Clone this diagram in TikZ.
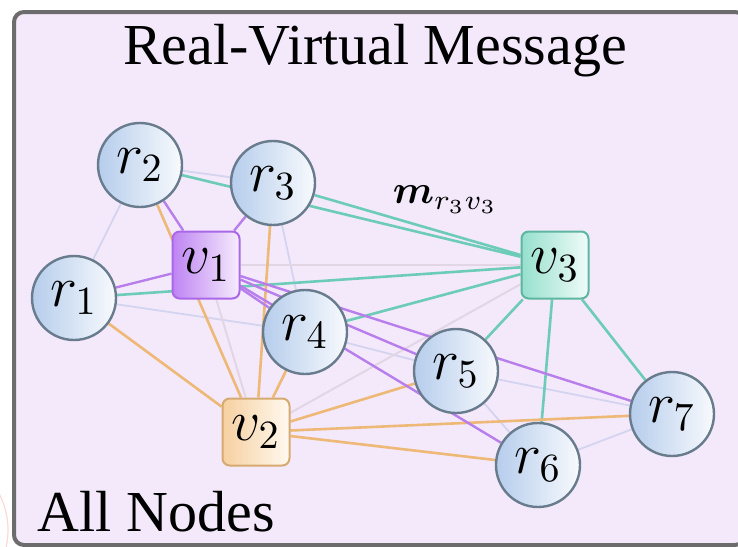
\documentclass[tikz,border=0pt]{standalone}
\usepackage{amsmath,bm}
\usepackage{fontspec}
\IfFontExistsTF{LiberationSerif-Regular.ttf}
  {\newfontfamily\headfont{LiberationSerif-Regular.ttf}}
  {\IfFontExistsTF{Liberation Serif:style=Regular}
     {\newfontfamily\headfont{Liberation Serif:style=Regular}}
     {\newcommand\headfont{\rmfamily}}}

\definecolor{panelfill}{RGB}{243,233,250}
\definecolor{panelrule}{RGB}{108,108,108}
\definecolor{realL}{RGB}{182,205,236}
\definecolor{realR}{RGB}{248,250,253}
\definecolor{realrule}{RGB}{104,124,142}
\definecolor{vaL}{RGB}{190,132,242}
\definecolor{vaR}{RGB}{246,236,253}
\definecolor{varule}{RGB}{170,104,232}
\definecolor{vbL}{RGB}{246,208,160}
\definecolor{vbR}{RGB}{255,249,240}
\definecolor{vbrule}{RGB}{214,170,112}
\definecolor{vcL}{RGB}{150,224,205}
\definecolor{vcR}{RGB}{240,251,248}
\definecolor{vcrule}{RGB}{92,182,160}
\definecolor{purpleedge}{RGB}{184,126,236}
\definecolor{orangeedge}{RGB}{238,184,118}
\definecolor{tealedge}{RGB}{108,204,184}
\definecolor{realpair}{RGB}{212,212,240}
\definecolor{virtpair}{RGB}{226,214,228}

\pgfdeclarelayer{back}
\pgfdeclarelayer{edges}
\pgfsetlayers{back,edges,main}

\tikzset{
  labelfont/.style={font=\fontsize{14.4}{14.4}\selectfont},
  realnode/.style={circle, minimum size=21pt, inner sep=0pt, draw=realrule,
    line width=0.6pt, left color=realL, right color=realR, labelfont},
  virtnode/.style={rectangle, rounded corners=1.8pt, minimum size=16.75pt,
    inner sep=0pt, line width=0.5pt, labelfont},
  vnodeA/.style={virtnode, draw=varule, left color=vaL, right color=vaR},
  vnodeB/.style={virtnode, draw=vbrule, left color=vbL, right color=vbR},
  vnodeC/.style={virtnode, draw=vcrule, left color=vcL, right color=vcR},
  realpairedge/.style={draw=realpair, line width=0.45pt},
  virtpairedge/.style={draw=virtpair, line width=0.5pt},
  edgeA/.style={draw=purpleedge, line width=0.6pt},
  edgeB/.style={draw=orangeedge, line width=0.65pt},
  edgeC/.style={draw=tealedge, line width=0.65pt},
  headline/.style={font=\headfont\fontsize{14.5}{14.5}\selectfont, inner sep=0pt},
}

\begin{document}
\begin{tikzpicture}[x=0.25pt, y=-0.25pt]
\useasboundingbox (0,0) rectangle (738,546);

% panel
\begin{pgfonlayer}{back}
  \fill[white] (0,0) rectangle (738,546);
  \begin{scope}
    \clip (0,400) rectangle (12,546);
    \draw[red!15, line width=0.3pt] (-70,530) circle (78);
    \draw[red!12, line width=0.3pt] (-70,530) circle (66);
  \end{scope}
  \draw[panelrule, fill=panelfill, line width=1pt, rounded corners=2.5pt]
    (14,12) rectangle (745,545);
\end{pgfonlayer}

% texts
\node[headline, anchor=base] (title) at (375,65) {Real-Virtual Message};
\node[headline, anchor=base west] (allnodes) at (37,531) {All Nodes};
\node[anchor=base west, inner sep=0pt, font=\fontsize{10}{10}\selectfont]
  (msg) at (392,203) {$\bm{m}_{r_3v_3}$};

% nodes
\node[realnode] (r1) at (74,298) {$r_1$};
\node[realnode] (r2) at (140,165) {$r_2$};
\node[realnode] (r3) at (273,183) {$r_3$};
\node[realnode] (r4) at (305,332) {$r_4$};
\node[realnode] (r5) at (456,371) {$r_5$};
\node[realnode] (r6) at (538,465) {$r_6$};
\node[realnode] (r7) at (672,414) {$r_7$};
\node[vnodeA] (v1) at (206,265) {$v_1$};
\node[vnodeB] (v2) at (256,432) {$v_2$};
\node[vnodeC] (v3) at (555,265) {$v_3$};

% connectors
\begin{pgfonlayer}{edges}
  \foreach \a/\b in {r1/r2, r2/r3, r1/r4, r3/r4, r4/r5, r5/r6, r5/r7, r6/r7}
    \draw[realpairedge] (\a) -- (\b);
  \foreach \a/\b in {v1/v2, v1/v3, v2/v3}
    \draw[virtpairedge] (\a) -- (\b);
  \foreach \r in {r1,r2,r3,r4,r5,r6,r7}
    \draw[edgeC] (v3) -- (\r);
  \foreach \r in {r1,r2,r3,r4,r5,r6,r7}
    \draw[edgeB] (v2) -- (\r);
  \foreach \r in {r1,r2,r3,r4,r5,r6,r7}
    \draw[edgeA] (v1) -- (\r);
\end{pgfonlayer}
\end{tikzpicture}
\end{document}
